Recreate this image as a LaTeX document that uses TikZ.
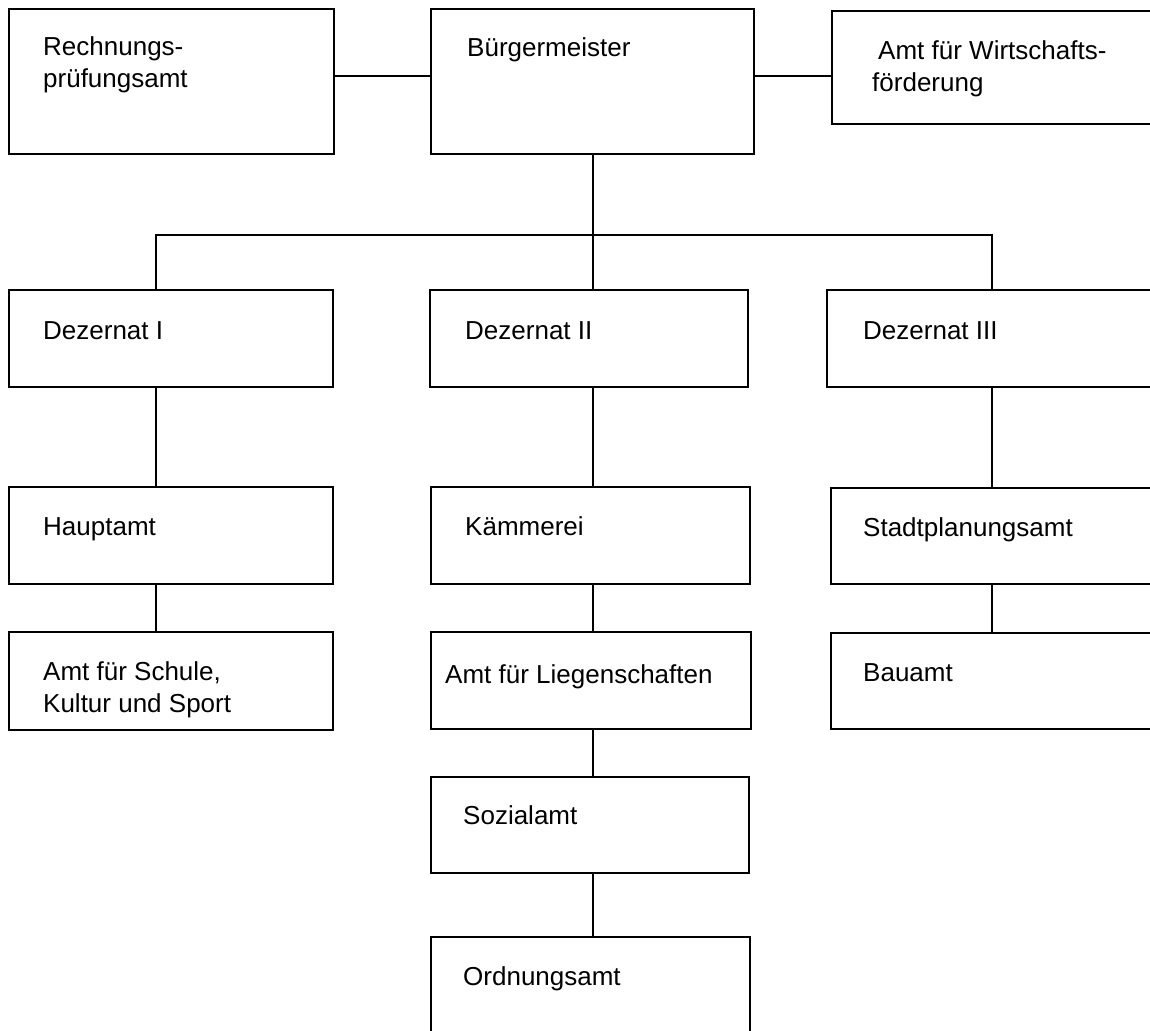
\documentclass[tikz,border=0pt]{standalone}
\usepackage{fontspec}
\setmainfont{Liberation Sans}
\begin{document}
\begin{tikzpicture}[x=1pt,y=-1pt,
  box/.style={draw, line width=2pt, rectangle, inner sep=0pt, outer sep=0pt, anchor=north west},
  txt/.style={anchor=base west, inner sep=0pt, font=\fontsize{26}{32}\selectfont},
  conn/.style={line width=1.8pt}]
\useasboundingbox (0,0) rectangle (1150,1030);
\clip (0,0) rectangle (1150,1030);
\fill[white] (0,0) rectangle (1150,1030);
% top row
\node[box, minimum width=325pt, minimum height=145pt] (rp) at (9,9) {};
\node[box, minimum width=323pt, minimum height=145pt] (bm) at (431,9) {};
\node[box, minimum width=340pt, minimum height=113pt] (wf) at (832,11) {};
% Dezernate
\node[box, minimum width=324pt, minimum height=97pt] (d1) at (9,290) {};
\node[box, minimum width=318pt, minimum height=97pt] (d2) at (430,290) {};
\node[box, minimum width=340pt, minimum height=97pt] (d3) at (827,290) {};
% row 2
\node[box, minimum width=324pt, minimum height=97pt] (h) at (9,487) {};
\node[box, minimum width=319pt, minimum height=97pt] (k) at (431,487) {};
\node[box, minimum width=340pt, minimum height=96pt] (sp) at (831,488) {};
% row 3
\node[box, minimum width=324pt, minimum height=98pt] (a) at (9,632) {};
\node[box, minimum width=320pt, minimum height=97pt] (l) at (431,632) {};
\node[box, minimum width=340pt, minimum height=96pt] (b) at (831,633) {};
% row 4, 5
\node[box, minimum width=318pt, minimum height=96pt] (so) at (431,777) {};
\node[box, minimum width=319pt, minimum height=120pt] (o) at (431,937) {};
% texts
\node[txt] (rpt) at (43,56) {\parbox[t]{280pt}{\raggedright Rechnungs-\\prüfungsamt}};
\node[txt] (bmt) at (467,57) {Bürgermeister};
\node[txt] (wft) at (872,60) {\parbox[t]{280pt}{\raggedright\hspace*{6pt}Amt für Wirtschafts-\\förderung}};
\node[txt] (d1t) at (43,339) {Dezernat I};
\node[txt] (d2t) at (465,339) {Dezernat II};
\node[txt] (d3t) at (863,339) {Dezernat III};
\node[txt] (ht) at (43,535) {Hauptamt};
\node[txt] (kt) at (465,535) {Kämmerei};
\node[txt] (spt) at (863,536) {Stadtplanungsamt};
\node[txt] (at) at (43,680) {\parbox[t]{280pt}{\raggedright Amt für Schule,\\Kultur und Sport}};
\node[txt] (lt) at (445,683) {Amt für Liegenschaften};
\node[txt] (bt) at (863,681) {Bauamt};
\node[txt] (sot) at (463,824) {Sozialamt};
\node[txt] (ot) at (463,985) {Ordnungsamt};
% connector guides
\coordinate (ytop) at (0,76);
\coordinate (bus) at (0,235);
\coordinate (c1) at (156,0);
\coordinate (c2) at (593,0);
\coordinate (c3) at (992,0);
% connectors
\draw[conn] (rp.east |- ytop) -- (bm.west |- ytop);
\draw[conn] (bm.east |- ytop) -- (wf.west |- ytop);
\draw[conn] (bm.south -| c2) -- (d2.north -| c2);
\draw[conn] (d1.north -| c1) -- (c1 |- bus) -- (c3 |- bus) -- (d3.north -| c3);
\draw[conn] (d1.south -| c1) -- (h.north -| c1);
\draw[conn] (h.south -| c1) -- (a.north -| c1);
\draw[conn] (d2.south -| c2) -- (k.north -| c2);
\draw[conn] (k.south -| c2) -- (l.north -| c2);
\draw[conn] (l.south -| c2) -- (so.north -| c2);
\draw[conn] (so.south -| c2) -- (o.north -| c2);
\draw[conn] (d3.south -| c3) -- (sp.north -| c3);
\draw[conn] (sp.south -| c3) -- (b.north -| c3);
\end{tikzpicture}
\end{document}
